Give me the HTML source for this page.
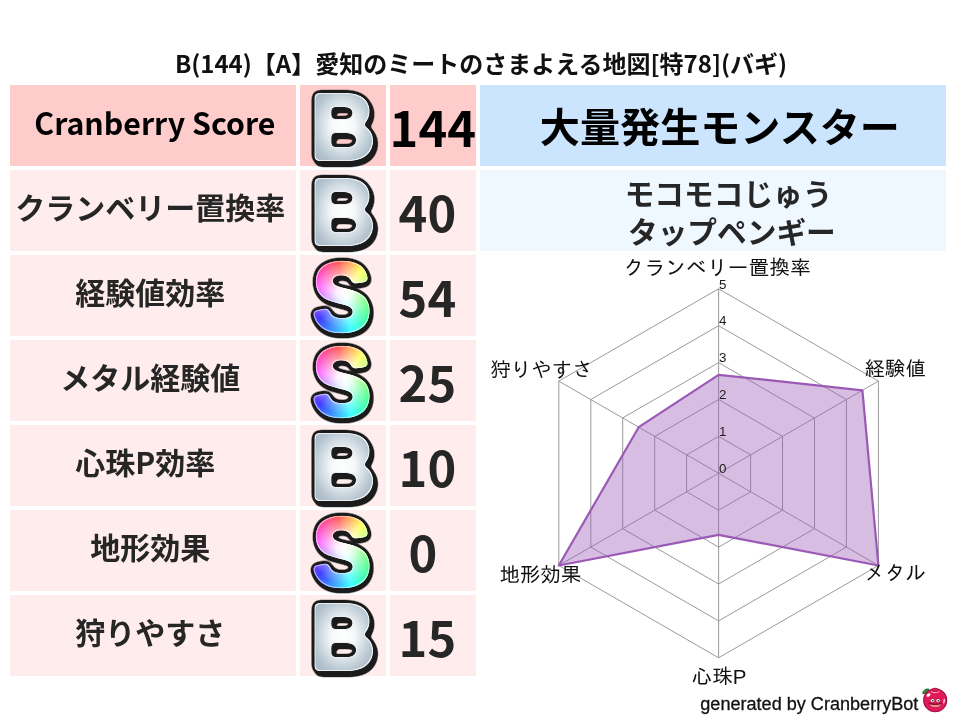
<!DOCTYPE html><html lang="ja"><head><meta charset="utf-8"><title>Cranberry Score</title><style>
html,body{margin:0;padding:0;background:#fff;}
body{width:960px;height:720px;position:relative;overflow:hidden;font-family:"Noto Sans CJK JP", "Liberation Sans", sans-serif;}
.c{position:absolute;height:81px;}
.t{position:absolute;white-space:nowrap;text-align:center;font-weight:700;color:#222;line-height:1;}
.title{position:absolute;left:1px;width:960px;top:47.7px;text-align:center;font-size:24px;font-weight:700;color:#111;line-height:30px;white-space:nowrap;}
svg{position:absolute;overflow:visible;}
</style></head><body>
<div class="title">B(144)【A】愛知のミートのさまよえる地図[特78](バギ)</div>
<div class="c" style="left:10px;top:85px;width:286px;background:#ffcccc"></div>
<div class="c" style="left:300px;top:85px;width:86px;background:#ffcccc"></div>
<div class="c" style="left:390px;top:85px;width:86px;background:#ffcccc"></div>
<div class="t" style="left:34.3px;top:104.5px;font-size:30.3px;color:#000;line-height:34px;text-align:left">Cranberry Score</div>
<div class="t" style="left:389.6px;top:97.6px;font-size:48.8px;color:#000;line-height:56px;text-align:left">144</div>
<div class="c" style="left:10px;top:170px;width:286px;background:#ffecec"></div>
<div class="c" style="left:300px;top:170px;width:86px;background:#ffecec"></div>
<div class="c" style="left:390px;top:170px;width:86px;background:#ffecec"></div>
<div class="t" style="left:15.2px;top:189.2px;font-size:30px;color:#262626;line-height:34px;text-align:left">クランベリー置換率</div>
<div class="t" style="left:398.6px;top:182.6px;font-size:48.8px;color:#262626;line-height:56px;text-align:left">40</div>
<div class="c" style="left:10px;top:255px;width:286px;background:#ffecec"></div>
<div class="c" style="left:300px;top:255px;width:86px;background:#ffecec"></div>
<div class="c" style="left:390px;top:255px;width:86px;background:#ffecec"></div>
<div class="t" style="left:75.2px;top:274.2px;font-size:30px;color:#262626;line-height:34px;text-align:left">経験値効率</div>
<div class="t" style="left:398.6px;top:267.6px;font-size:48.8px;color:#262626;line-height:56px;text-align:left">54</div>
<div class="c" style="left:10px;top:340px;width:286px;background:#ffecec"></div>
<div class="c" style="left:300px;top:340px;width:86px;background:#ffecec"></div>
<div class="c" style="left:390px;top:340px;width:86px;background:#ffecec"></div>
<div class="t" style="left:60.2px;top:359.2px;font-size:30px;color:#262626;line-height:34px;text-align:left">メタル経験値</div>
<div class="t" style="left:398.6px;top:352.6px;font-size:48.8px;color:#262626;line-height:56px;text-align:left">25</div>
<div class="c" style="left:10px;top:425px;width:286px;background:#ffecec"></div>
<div class="c" style="left:300px;top:425px;width:86px;background:#ffecec"></div>
<div class="c" style="left:390px;top:425px;width:86px;background:#ffecec"></div>
<div class="t" style="left:75.2px;top:444.2px;font-size:30px;color:#262626;line-height:34px;text-align:left">心珠P効率</div>
<div class="t" style="left:398.6px;top:437.6px;font-size:48.8px;color:#262626;line-height:56px;text-align:left">10</div>
<div class="c" style="left:10px;top:510px;width:286px;background:#ffecec"></div>
<div class="c" style="left:300px;top:510px;width:86px;background:#ffecec"></div>
<div class="c" style="left:390px;top:510px;width:86px;background:#ffecec"></div>
<div class="t" style="left:90.2px;top:529.2px;font-size:30px;color:#262626;line-height:34px;text-align:left">地形効果</div>
<div class="t" style="left:408.6px;top:522.6px;font-size:48.8px;color:#262626;line-height:56px;text-align:left">0</div>
<div class="c" style="left:10px;top:595px;width:286px;background:#ffecec"></div>
<div class="c" style="left:300px;top:595px;width:86px;background:#ffecec"></div>
<div class="c" style="left:390px;top:595px;width:86px;background:#ffecec"></div>
<div class="t" style="left:75.2px;top:614.2px;font-size:30px;color:#262626;line-height:34px;text-align:left">狩りやすさ</div>
<div class="t" style="left:398.6px;top:607.6px;font-size:48.8px;color:#262626;line-height:56px;text-align:left">15</div>
<div class="c" style="left:480px;top:85px;width:466px;background:#cce5ff"></div>
<div class="c" style="left:480px;top:170px;width:466px;background:#eff7ff"></div>
<div class="t" style="left:539.8px;top:98.9px;font-size:40.12px;color:#000;line-height:52px;text-align:left">大量発生モンスター</div>
<div class="t" style="left:624.7px;top:172.8px;font-size:29.7px;color:#262626;line-height:40px;text-align:left">モコモコじゅう</div>
<div class="t" style="left:628px;top:210.6px;font-size:29.7px;color:#262626;line-height:40px;text-align:left">タップペンギー</div>
<svg width="0" height="0" style="left:0;top:0"><defs><filter id="fShape" x="-30%" y="-30%" width="160%" height="160%" color-interpolation-filters="sRGB"><feGaussianBlur stdDeviation="2.1"/><feComponentTransfer result="shape"><feFuncA type="linear" slope="8" intercept="-3.5"/></feComponentTransfer></filter><filter id="fShape2" x="-30%" y="-30%" width="160%" height="160%" color-interpolation-filters="sRGB"><feGaussianBlur stdDeviation="2.1"/><feComponentTransfer result="shape"><feFuncA type="linear" slope="8" intercept="-3.5"/></feComponentTransfer><feMorphology operator="erode" radius="1"/></filter><filter id="fDark" x="-30%" y="-30%" width="160%" height="160%" color-interpolation-filters="sRGB"><feGaussianBlur stdDeviation="2.1"/><feComponentTransfer result="shape"><feFuncA type="linear" slope="8" intercept="-3.5"/></feComponentTransfer><feGaussianBlur in="shape" stdDeviation="2.6"/><feComponentTransfer result="d"><feFuncA type="linear" slope="10" intercept="-0.6"/></feComponentTransfer><feOffset in="d" dx="2.6" dy="3.0" result="o"/><feFlood flood-color="#1b1b1b" result="f"/><feMerge result="du"><feMergeNode in="d"/><feMergeNode in="o"/></feMerge><feComposite in="f" in2="du" operator="in"/></filter><filter id="fDarkS" x="-30%" y="-30%" width="160%" height="160%" color-interpolation-filters="sRGB"><feGaussianBlur stdDeviation="2.1"/><feComponentTransfer result="shape"><feFuncA type="linear" slope="8" intercept="-3.5"/></feComponentTransfer><feGaussianBlur in="shape" stdDeviation="2.5"/><feComponentTransfer result="d"><feFuncA type="linear" slope="10" intercept="-0.5"/></feComponentTransfer><feOffset in="d" dx="1.1" dy="1.9" result="o"/><feFlood flood-color="#1b1b1b" result="f"/><feMerge result="du"><feMergeNode in="d"/><feMergeNode in="o"/></feMerge><feComposite in="f" in2="du" operator="in"/></filter><filter id="fShapeK" x="-30%" y="-30%" width="160%" height="160%" color-interpolation-filters="sRGB"><feGaussianBlur stdDeviation="2.1"/><feComponentTransfer result="shape"><feFuncA type="linear" slope="8" intercept="-3.5"/></feComponentTransfer><feMorphology operator="erode" radius="1" result="e"/><feFlood flood-color="#000"/><feComposite in2="e" operator="in"/></filter><radialGradient id="gB" gradientUnits="userSpaceOnUse" cx="34" cy="-33" r="50" gradientTransform="translate(34,-33) scale(0.86,1) translate(-34,33)"><stop offset="0" stop-color="#ffffff"/><stop offset="0.28" stop-color="#f6f9fa"/><stop offset="0.54" stop-color="#d0dbe2"/><stop offset="0.74" stop-color="#b4c3ce"/><stop offset="1" stop-color="#a2b3c0"/></radialGradient><mask id="mB" maskUnits="userSpaceOnUse" x="-20" y="-100" width="120" height="130"><text class="gB" filter="url(#fShape)" x="0" y="0" fill="#fff" stroke="#fff" stroke-width="4">B</text></mask><mask id="mB2" maskUnits="userSpaceOnUse" x="-20" y="-100" width="120" height="130"><text class="gB" filter="url(#fShape2)" x="0" y="0" fill="#fff" stroke="#fff" stroke-width="4">B</text></mask><mask id="mS" maskUnits="userSpaceOnUse" x="-20" y="-100" width="120" height="130"><text class="gS" filter="url(#fShape)" x="0" y="0" fill="#fff" stroke="#fff" stroke-width="4.4">S</text></mask><mask id="mSr" maskUnits="userSpaceOnUse" x="-20" y="-100" width="120" height="130"><text class="gS" filter="url(#fShape)" x="0" y="0" fill="#fff" stroke="#fff" stroke-width="4.4">S</text><text class="gS" filter="url(#fShapeK)" x="0" y="0" fill="#fff" stroke="#fff" stroke-width="4.4">S</text></mask></defs></svg>
<style>.gB,.gS{font-family:"Liberation Sans",sans-serif;font-weight:700;stroke-linejoin:round;}.gB{font-size:94px}.gS{font-size:89px}</style>
<svg width="90" height="90" style="left:307px;top:88px"><g transform="translate(3.4,70.9) scale(0.955,0.995)"><text class="gB" filter="url(#fDark)" x="0" y="0" fill="#000" stroke="#000" stroke-width="4">B</text><rect x="-15" y="-90" width="110" height="115" fill="#e9eff3" mask="url(#mB)"/><rect x="-15" y="-90" width="110" height="115" fill="url(#gB)" mask="url(#mB2)"/></g></svg>
<svg width="90" height="90" style="left:307px;top:173px"><g transform="translate(3.4,70.9) scale(0.955,0.995)"><text class="gB" filter="url(#fDark)" x="0" y="0" fill="#000" stroke="#000" stroke-width="4">B</text><rect x="-15" y="-90" width="110" height="115" fill="#e9eff3" mask="url(#mB)"/><rect x="-15" y="-90" width="110" height="115" fill="url(#gB)" mask="url(#mB2)"/></g></svg>
<svg width="90" height="90" style="left:307px;top:258px"><g transform="translate(5.6,72.4) scale(0.985,1.075)"><text class="gS" filter="url(#fDarkS)" x="0" y="0" fill="#000" stroke="#000" stroke-width="4.4">S</text><g mask="url(#mS)"><foreignObject x="-10" y="-80" width="90" height="100"><div style="width:90px;height:100px;background:radial-gradient(circle at 42px 45.5px,#fff 0,rgba(255,255,255,.92) 10%,rgba(255,255,255,0) 46%),conic-gradient(from -12deg at 42px 45.5px,#ff4040,#ffff40 14%,#40ff40 32%,#40ffff 50%,#4040ff 66%,#ff40ff 82%,#ff4040)"></div></foreignObject></g><rect x="-15" y="-90" width="110" height="115" fill="#fff" opacity="0.5" mask="url(#mSr)"/></g></svg>
<svg width="90" height="90" style="left:307px;top:343px"><g transform="translate(5.6,72.4) scale(0.985,1.075)"><text class="gS" filter="url(#fDarkS)" x="0" y="0" fill="#000" stroke="#000" stroke-width="4.4">S</text><g mask="url(#mS)"><foreignObject x="-10" y="-80" width="90" height="100"><div style="width:90px;height:100px;background:radial-gradient(circle at 42px 45.5px,#fff 0,rgba(255,255,255,.92) 10%,rgba(255,255,255,0) 46%),conic-gradient(from -12deg at 42px 45.5px,#ff4040,#ffff40 14%,#40ff40 32%,#40ffff 50%,#4040ff 66%,#ff40ff 82%,#ff4040)"></div></foreignObject></g><rect x="-15" y="-90" width="110" height="115" fill="#fff" opacity="0.5" mask="url(#mSr)"/></g></svg>
<svg width="90" height="90" style="left:307px;top:428px"><g transform="translate(3.4,70.9) scale(0.955,0.995)"><text class="gB" filter="url(#fDark)" x="0" y="0" fill="#000" stroke="#000" stroke-width="4">B</text><rect x="-15" y="-90" width="110" height="115" fill="#e9eff3" mask="url(#mB)"/><rect x="-15" y="-90" width="110" height="115" fill="url(#gB)" mask="url(#mB2)"/></g></svg>
<svg width="90" height="90" style="left:307px;top:513px"><g transform="translate(5.6,72.4) scale(0.985,1.075)"><text class="gS" filter="url(#fDarkS)" x="0" y="0" fill="#000" stroke="#000" stroke-width="4.4">S</text><g mask="url(#mS)"><foreignObject x="-10" y="-80" width="90" height="100"><div style="width:90px;height:100px;background:radial-gradient(circle at 42px 45.5px,#fff 0,rgba(255,255,255,.92) 10%,rgba(255,255,255,0) 46%),conic-gradient(from -12deg at 42px 45.5px,#ff4040,#ffff40 14%,#40ff40 32%,#40ffff 50%,#4040ff 66%,#ff40ff 82%,#ff4040)"></div></foreignObject></g><rect x="-15" y="-90" width="110" height="115" fill="#fff" opacity="0.5" mask="url(#mSr)"/></g></svg>
<svg width="90" height="90" style="left:307px;top:598px"><g transform="translate(3.4,70.9) scale(0.955,0.995)"><text class="gB" filter="url(#fDark)" x="0" y="0" fill="#000" stroke="#000" stroke-width="4">B</text><rect x="-15" y="-90" width="110" height="115" fill="#e9eff3" mask="url(#mB)"/><rect x="-15" y="-90" width="110" height="115" fill="url(#gB)" mask="url(#mB2)"/></g></svg>
<svg width="960" height="720" style="left:0;top:0" viewBox="0 0 960 720">
<polygon points="718.6,436.4 750.6,454.9 750.6,491.8 718.6,510.2 686.6,491.8 686.6,454.9" fill="none" stroke="#9a9a9a" stroke-width="1"/>
<polygon points="718.6,399.5 782.5,436.4 782.5,510.2 718.6,547.1 654.7,510.2 654.7,436.4" fill="none" stroke="#9a9a9a" stroke-width="1"/>
<polygon points="718.6,362.6 814.5,418.0 814.5,528.6 718.6,584.0 622.7,528.6 622.7,417.9" fill="none" stroke="#9a9a9a" stroke-width="1"/>
<polygon points="718.6,325.7 846.4,399.5 846.4,547.1 718.6,620.9 590.8,547.1 590.8,399.5" fill="none" stroke="#9a9a9a" stroke-width="1"/>
<polygon points="718.6,288.8 878.4,381.1 878.4,565.5 718.6,657.8 558.8,565.5 558.8,381.1" fill="none" stroke="#9a9a9a" stroke-width="1"/>
<line x1="718.6" y1="473.3" x2="718.6" y2="288.8" stroke="#9a9a9a" stroke-width="1"/>
<line x1="718.6" y1="473.3" x2="878.4" y2="381.1" stroke="#9a9a9a" stroke-width="1"/>
<line x1="718.6" y1="473.3" x2="878.4" y2="565.5" stroke="#9a9a9a" stroke-width="1"/>
<line x1="718.6" y1="473.3" x2="718.6" y2="657.8" stroke="#9a9a9a" stroke-width="1"/>
<line x1="718.6" y1="473.3" x2="558.8" y2="565.5" stroke="#9a9a9a" stroke-width="1"/>
<line x1="718.6" y1="473.3" x2="558.8" y2="381.1" stroke="#9a9a9a" stroke-width="1"/>
<polygon points="718.6,374.8 862.4,390.3 878.4,565.5 718.6,534.9 558.8,565.5 638.7,427.2" fill="rgba(155,89,182,0.4)" stroke="#9b59b6" stroke-width="2.2" stroke-linejoin="round"/>
<text x="719.1" y="473.0" font-family='"Liberation Sans",sans-serif' font-size="13.4" fill="#1a1a1a">0</text>
<text x="719.1" y="436.1" font-family='"Liberation Sans",sans-serif' font-size="13.4" fill="#1a1a1a">1</text>
<text x="719.1" y="399.2" font-family='"Liberation Sans",sans-serif' font-size="13.4" fill="#1a1a1a">2</text>
<text x="719.1" y="362.3" font-family='"Liberation Sans",sans-serif' font-size="13.4" fill="#1a1a1a">3</text>
<text x="719.1" y="325.4" font-family='"Liberation Sans",sans-serif' font-size="13.4" fill="#1a1a1a">4</text>
<text x="719.1" y="288.5" font-family='"Liberation Sans",sans-serif' font-size="13.4" fill="#1a1a1a">5</text>
<text x="717.4" y="275.2" text-anchor="middle" letter-spacing="0.35" font-family='"Liberation Sans", "IPAGothic", sans-serif' font-size="20.5" fill="#111">クランベリー置換率</text>
<text x="864.6" y="376.4" text-anchor="start" font-family='"Liberation Sans", "IPAGothic", sans-serif' font-size="20.5" fill="#111">経験値</text>
<text x="864.6" y="580.3" text-anchor="start" font-family='"Liberation Sans", "IPAGothic", sans-serif' font-size="20.5" fill="#111">メタル</text>
<text x="719" y="683.6" text-anchor="middle" font-family='"Liberation Sans", "IPAGothic", sans-serif' font-size="20.5" fill="#111">心珠P</text>
<text x="581.6" y="582.3" text-anchor="end" font-family='"Liberation Sans", "IPAGothic", sans-serif' font-size="20.5" fill="#111">地形効果</text>
<text x="592.8" y="376.6" text-anchor="end" font-family='"Liberation Sans", "IPAGothic", sans-serif' font-size="20.5" fill="#111">狩りやすさ</text>
<text x="700.3" y="710.4" font-family='"Liberation Sans",sans-serif' font-size="18.08" fill="#111" stroke="#111" stroke-width="0.3">generated by CranberryBot</text>
<g transform="translate(935.2,700)">
<path d="M-12.3,-6.2 C-12.8,-9.2 -9.6,-11.6 -6.4,-10.9 C-6.6,-8.6 -8.6,-6.6 -12.3,-6.2Z" fill="#2c8a3c" stroke="#1c5a27" stroke-width="0.9"/>
<circle cx="0" cy="0.2" r="11.5" fill="#e4195b" stroke="#9c0e3b" stroke-width="1.1"/>
<path d="M-3.6,-9.4 C-3.4,-12.6 3.4,-12.6 3.6,-9.4 C2,-7.9 -2,-7.9 -3.6,-9.4Z" fill="#e4195b" stroke="#9c0e3b" stroke-width="0.7"/>
<path d="M-4.2,-8.9 C-2.4,-6.9 2.4,-6.9 4.2,-8.9" fill="none" stroke="#ffd3de" stroke-width="0.9"/>
<ellipse cx="-6.7" cy="-5" rx="2.2" ry="1.4" transform="rotate(-35 -6.7 -5)" fill="#fff"/>
<ellipse cx="8.9" cy="1.2" rx="0.75" ry="2.6" transform="rotate(8 8.9 1.2)" fill="#ffdbe4"/>
<path d="M-5,-1.6 Q-2.6,-2.6 -0.8,-1.2 M1,-1.2 Q2.9,-2.6 5.3,-1.6" fill="none" stroke="#b0123f" stroke-width="0.6"/>
<ellipse cx="-2.7" cy="0.6" rx="2" ry="1.8" fill="#ffffff" stroke="#6a0a28" stroke-width="0.35"/><circle cx="-2.5" cy="0.7" r="0.8" fill="#1f2a1f"/>
<ellipse cx="2.9" cy="0.6" rx="2" ry="1.8" fill="#ffffff" stroke="#6a0a28" stroke-width="0.35"/><circle cx="3.2" cy="0.7" r="0.8" fill="#1f2a1f"/>
<path d="M-6,3.4 Q0,5.2 6.2,3.4 Q5.8,7.6 0.1,7.6 Q-5.6,7.6 -6,3.4Z" fill="#f38c8c" stroke="#a31039" stroke-width="0.7"/>
<path d="M-6.1,3.3 Q0,5.4 6.3,3.3" fill="none" stroke="#8a0c33" stroke-width="1.3" stroke-linecap="round"/>
</g>
</svg>
</body></html>
